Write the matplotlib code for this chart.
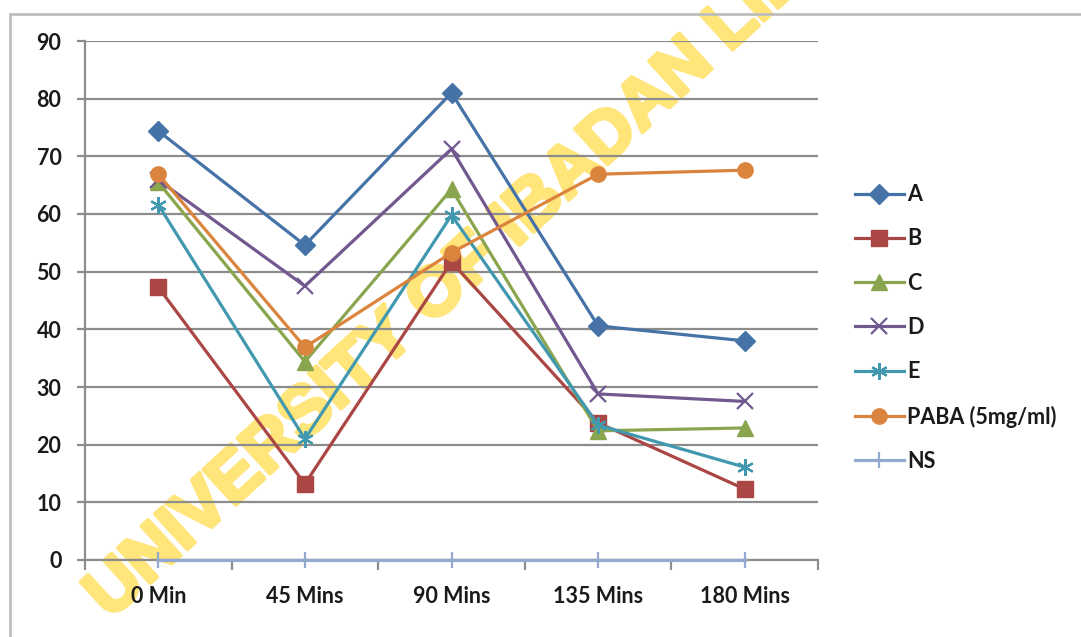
import matplotlib
matplotlib.use("Agg")
import matplotlib.pyplot as plt
import matplotlib.patheffects as pe
from matplotlib.patches import Rectangle

# time points and measured values per sample
times = ["0 Min", "45 Mins", "90 Mins", "135 Mins", "180 Mins"]
a_vals = [74.4, 54.6, 81.0, 40.6, 38.0]
b_vals = [47.3, 13.2, 51.7, 23.8, 12.3]
c_vals = [65.5, 34.4, 64.3, 22.4, 22.9]
d_vals = [65.9, 47.5, 71.3, 28.8, 27.5]
e_vals = [61.6, 21.0, 59.8, 23.4, 16.1]
paba_vals = [66.9, 36.9, 53.3, 66.9, 67.6]
ns_vals = [0, 0, 0, 0, 0]

series = [
    ("A", a_vals, "#4572A7", "D", 10),
    ("B", b_vals, "#AA4643", "s", 11),
    ("C", c_vals, "#89A54E", "^", 11),
    ("D", d_vals, "#71588F", "x", 11),
    ("E", e_vals, "#4198AF", (6, 2, 0), 12),
    ("PABA (5mg/ml)", paba_vals, "#DB843D", "o", 11),
    ("NS", ns_vals, "#93A9CF", "|", 11),
]

FONT = ["Lato", "DejaVu Sans"]
WM_COLOR = "#FFE57A"


def main():
    fig = plt.figure(figsize=(10.81, 6.37), dpi=100)
    # chart frame
    fig.patches.append(Rectangle((10 / 1081, -0.1), 1.2, 1 - 14 / 637 + 0.1,
                                 transform=fig.transFigure, fill=False,
                                 edgecolor="#BEBEBE", linewidth=2))

    ax = fig.add_axes([85 / 1081, 1 - 560 / 637, (818 - 85) / 1081, (560 - 41) / 637])
    ax.patch.set_visible(False)
    x = list(range(len(times)))

    for name, vals, color, marker, ms in series:
        mew = 1.6 if marker in ("x", "|") or isinstance(marker, tuple) else 1
        ax.plot(x, vals, color=color, linewidth=2.3, marker=marker, markersize=ms,
                markeredgewidth=mew, markeredgecolor=color, markerfacecolor=color,
                label=name, clip_on=False, zorder=3)

    ax.set_xlim(-0.5, 4.5)
    ax.set_ylim(0, 90)
    ax.set_yticks(range(0, 91, 10))
    ax.grid(axis="y", color="#8C8C8C", linewidth=1.6)
    ax.set_axisbelow(True)

    for side in ("top", "right"):
        ax.spines[side].set_visible(False)
    for side in ("left", "bottom"):
        ax.spines[side].set_color("#8C8C8C")
        ax.spines[side].set_linewidth(1.6)

    ax.set_xticks(x)
    ax.set_xticklabels(times)
    ax.set_xticks([i - 0.5 for i in range(len(times) + 1)], minor=True)
    ax.tick_params(axis="x", which="major", length=0, pad=19)
    ax.tick_params(axis="x", which="minor", length=7, width=1.6, color="#8C8C8C", direction="out")
    ax.tick_params(axis="y", length=6, width=1.6, color="#8C8C8C", pad=11)
    for lbl in ax.get_xticklabels() + ax.get_yticklabels():
        lbl.set_fontfamily(FONT)
        lbl.set_fontsize(15.5)
        lbl.set_fontweight("bold")
        lbl.set_color("#1A1A1A")

    leg = ax.legend(loc="center left", bbox_to_anchor=(1.05, 0.447), frameon=False,
                    prop={"family": FONT, "size": 15.5, "weight": "bold"},
                    borderaxespad=0, borderpad=0,
                    handlelength=2.3, handletextpad=0.15, labelspacing=1.08)
    for t in leg.get_texts():
        t.set_color("#1A1A1A")

    # library watermark, drawn beneath the axes content
    fig.text(110 / 1081, 1 - 620 / 637, "UNIVERSITY OF IBADAN LIBRARY",
             rotation=42.5, rotation_mode="anchor", ha="left", va="baseline",
             fontsize=50, fontweight="bold", family=["Liberation Sans", "DejaVu Sans"],
             color=WM_COLOR, zorder=-1,
             path_effects=[pe.withStroke(linewidth=3, foreground=WM_COLOR)])

    fig.savefig("out.png", dpi=100)


if __name__ == "__main__":
    main()
